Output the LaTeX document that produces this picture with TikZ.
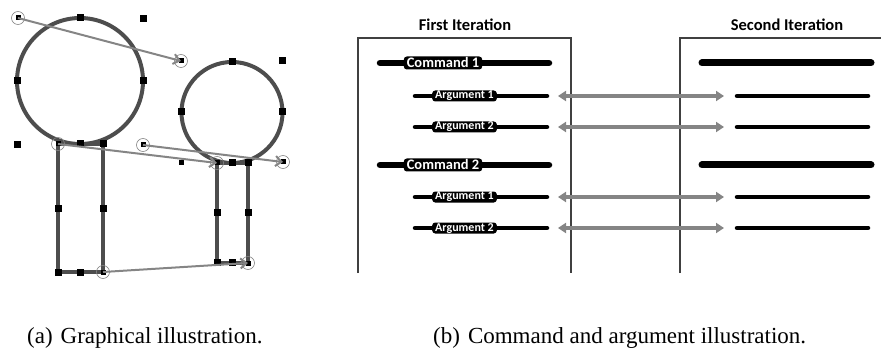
\documentclass[tikz,border=0pt]{standalone}
\usepackage{fontspec}
\setmainfont{Liberation Serif}
\newfontfamily\carl{Carlito}
\usetikzlibrary{arrows.meta}
\definecolor{shapegray}{HTML}{4D4D4D}
\definecolor{arrgray}{HTML}{858585}
\definecolor{boxgray}{HTML}{404040}
\begin{document}
\begin{tikzpicture}[x=1pt,y=-1pt,
  shp/.style={draw=shapegray,line width=4pt},
  sq/.style={rectangle,fill=black,inner sep=0pt,minimum size=7pt},
  sqs/.style={rectangle,fill=black,inner sep=0pt,minimum size=5pt},
  ring/.style={circle,draw=arrgray,line width=0.6pt,inner sep=0pt,minimum size=13pt},
  garrow/.style={draw=arrgray,line width=2pt,-{Straight Barb[length=6pt,width=10pt,line width=2pt]}},
  boxl/.style={draw=boxgray,line width=1.1pt},
  cmdl/.style={draw=black,line width=6.5pt,line cap=round},
  argl/.style={draw=black,line width=4.5pt,line cap=round},
  cmdlab/.style={fill=black,text=white,rounded corners=3pt,font=\carl\bfseries\fontsize{14.5}{15}\selectfont,inner xsep=3pt,inner ysep=0pt,minimum height=13pt,text height=9.5pt,text depth=0pt},
  arglab/.style={fill=black,text=white,rounded corners=3pt,font=\carl\bfseries\fontsize{12}{13}\selectfont,inner xsep=3pt,inner ysep=0pt,minimum height=11pt,text height=8pt,text depth=2pt},
  ttl/.style={font=\carl\bfseries\fontsize{16.5}{18}\selectfont,anchor=base},
  darrow/.style={draw=arrgray,line width=3.3pt,{Triangle[length=8pt,width=10pt]}-{Triangle[length=8pt,width=10pt]}},
  capt/.style={font=\fontsize{23}{26}\selectfont,anchor=base west,inner sep=0pt}
]
\useasboundingbox (0,0) rectangle (881,350);

% ---------- (a) graphical illustration ----------
\draw[shp] (80,81) circle[radius=63pt];
\draw[shp] (232,112.5) circle[radius=50.5pt];
\draw[shp] (58,144) rectangle (103,272);
\draw[shp] (217,163) rectangle (248,263);

\foreach \p/\n in {{(80,18)}/q1,{(17,81)}/q2,{(143,81)}/q3,{(80,144)}/q4,{(103,144)}/q5,
  {(58,208)}/q6,{(103,208)}/q7,{(58,272)}/q8,{(80,272)}/q9,
  {(232,62)}/q10,{(181,112)}/q11,{(282,112)}/q12,{(232,163)}/q13,{(248,163)}/q14,
  {(217,212)}/q15,{(248,212)}/q16,{(217,262)}/q17,{(232,262)}/q18,
  {(143,19)}/q19,{(282,61)}/q20,{(17,145)}/q21}
  \node[sq] (\n) at \p {};
\node[sqs] (q22) at (181,163) {};

\foreach \p/\n in {{(18,18)}/e1,{(181,61)}/e2,{(58,144)}/e3,{(217,163)}/e4,
  {(143,145)}/e5,{(283,162)}/e6,{(103,272)}/e7,{(248,263)}/e8}
  {\node[sqs] at \p {};}

\draw[garrow] (18,18) coordinate (c1) -- (181,61) coordinate (c2);
\draw[garrow] (58,144) coordinate (c3) -- (217,163) coordinate (c4);
\draw[garrow] (143,145) coordinate (c5) -- (283,162) coordinate (c6);
\draw[garrow] (103,272) coordinate (c7) -- (248,263) coordinate (c8);

\foreach \p/\n in {{(18,18)}/e1,{(181,61)}/e2,{(58,144)}/e3,{(217,163)}/e4,
  {(143,145)}/e5,{(283,162)}/e6,{(103,272)}/e7,{(248,263)}/e8}
  {\node[ring] (\n) at \p {};}

% ---------- (b) command and argument illustration ----------
\node[ttl] (t1) at (465,31) {First Iteration};
\node[ttl] (t2) at (787,31) {Second Iteration};

\draw[boxl] (358,273) -- (358,38) -- (571,38) -- (571,273);
\draw[boxl] (680,273) -- (680,38) -- (881,38);

% first iteration
\draw[cmdl] (380,63) -- (549,63);
\node[cmdlab] (c1l) at (443,63) {Command 1};
\draw[argl] (415,96) -- (547,96);
\node[arglab] (a1l) at (464.5,96) {Argument 1};
\draw[argl] (415,127) -- (547,127);
\node[arglab] (a2l) at (464.5,127) {Argument 2};
\draw[cmdl] (380,165) -- (549,165);
\node[cmdlab] (c2l) at (443,165) {Command 2};
\draw[argl] (415,197) -- (547,197);
\node[arglab] (a3l) at (464.5,197) {Argument 1};
\draw[argl] (415,228) -- (547,228);
\node[arglab] (a4l) at (464.5,228) {Argument 2};

% second iteration
\draw[cmdl,line width=7pt] (702,63) -- (871,63);
\draw[argl] (737,96) -- (868,96);
\draw[argl] (737,127) -- (868,127);
\draw[cmdl,line width=7pt] (702,165) -- (871,165);
\draw[argl] (737,197) -- (868,197);
\draw[argl] (737,228) -- (868,228);

% arrows
\foreach \y/\n in {96/1,127/2,197/3,228/4}{
  \coordinate (al\n) at (558,\y);
  \coordinate (ar\n) at (724,\y);
  \draw[darrow] (al\n) -- (ar\n);
}

% captions
\node[capt] (capa) at (27,343) {(a)\hspace{8pt}Graphical illustration.};
\node[capt] (capb) at (433,343) {(b)\hspace{8pt}Command and argument illustration.};
\end{tikzpicture}
\end{document}
